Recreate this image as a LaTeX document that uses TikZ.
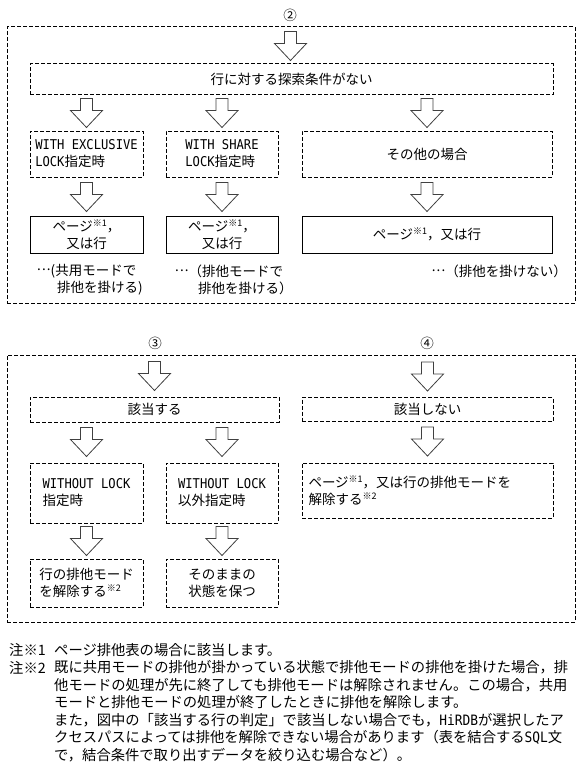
\documentclass[tikz,border=0pt]{standalone}
\usepackage{fontspec}
\setmainfont{Noto Sans CJK JP}
\newfontfamily\monof{DejaVu Sans Mono}[FakeStretch=0.9]
\usetikzlibrary{calc}
\newcommand\kome[1]{\raisebox{0.4em}{\fontsize{9pt}{9pt}\selectfont ※#1}}
\newcommand\lat[1]{{\monof #1}}
\newcommand\mdots{\makebox[1em][c]{\raisebox{0.32em}{.\kern0.08em.\kern0.08em.}}}
\begin{document}
\begin{tikzpicture}[x=1pt,y=-1pt,
  font=\fontsize{13.5pt}{17pt}\selectfont,
  dbox/.style={draw, line width=1pt, dash pattern=on 4pt off 2pt, inner sep=0pt},
  sbox/.style={draw, line width=0.9pt, inner sep=0pt},
  frame/.style={draw, line width=1pt, dash pattern=on 4pt off 2pt, inner sep=0pt},
  arrowline/.style={draw=black!75, line width=0.8pt, fill=white, line join=miter},
  txt/.style={inner sep=0pt, anchor=west},
  note/.style={inner sep=0pt, anchor=west, font=\fontsize{14.3pt}{17pt}\selectfont},
  barrow/.pic={\path[arrowline] (-6,0) -- (6,0) -- (6,12) -- (16,12) -- (0,29) -- (-16,12) -- (-6,12) -- cycle;}
]
\useasboundingbox (0,0) rectangle (581,773);

% ---------- section 2 ----------
\node[frame, minimum width=568pt, minimum height=276pt] (f1) at (291,165) {};
\node[inner sep=0pt] (c2) at (290,15) {②};
\node[dbox, minimum width=523pt, minimum height=31pt] (r1) at (291.5,79.5) {行に対する探索条件がない};

\node[dbox, minimum width=113pt, minimum height=46pt, align=left] (e1) at (86.5,154) {\lat{WITH EXCLUSIVE}\\\lat{LOCK}指定時};
\node[dbox, minimum width=112pt, minimum height=46pt, align=left] (e2) at (222,154) {\lat{WITH SHARE}\\\lat{LOCK}指定時};
\node[dbox, minimum width=250pt, minimum height=46pt] (e3) at (427,154) {その他の場合};

\node[sbox, minimum width=113pt, minimum height=37pt, align=center] (p1) at (86.5,234.5) {ページ\kome{1}，\\又は行};
\node[sbox, minimum width=112pt, minimum height=37pt, align=center] (p2) at (222,234.5) {ページ\kome{1}，\\又は行};
\node[sbox, minimum width=250pt, minimum height=37pt] (p3) at (427,234.5) {ページ\kome{1}，又は行};

\node[txt] (t1a) at (37,271) {\mdots(共用モードで};
\node[txt] (t1b) at (57,288) {排他を掛ける)};
\node[txt] (t2a) at (175,271) {\mdots（排他モードで};
\node[txt] (t2b) at (198,288) {排他を掛ける）};
\node[inner sep=0pt, anchor=east] (t3) at (567,271) {\mdots（排他を掛けない）};

\pic at ($(r1.north)+(-1,-32)$) {barrow};
\foreach \b in {e1,e2,e3} \pic at ($(\b.north |- r1.south)+(0,3)$) {barrow};
\foreach \a/\b in {e1/p1,e2/p2,e3/p3} \pic at ($(\a.south)+(0,5)$) {barrow};

% ---------- sections 3 and 4 ----------
\node[frame, minimum width=568pt, minimum height=267pt] (f2) at (291,488.5) {};
\node[inner sep=0pt] (c3) at (155,343) {③};
\node[inner sep=0pt] (c4) at (427,343) {④};

\node[dbox, minimum width=249pt, minimum height=25pt] (g1) at (154.5,409.5) {該当する};
\node[dbox, minimum width=113pt, minimum height=60pt, align=left] (h1) at (86.5,493) {\lat{WITHOUT LOCK}\\指定時};
\node[dbox, minimum width=112pt, minimum height=60pt, align=left] (h2) at (222,493) {\lat{WITHOUT LOCK}\\以外指定時};
\node[dbox, minimum width=113pt, minimum height=48pt, align=left] (k1) at (86.5,583) {行の排他モード\\を解除する\kome{2}};
\node[dbox, minimum width=112pt, minimum height=48pt, align=center] (k2) at (222,583) {そのままの\\状態を保つ};

\node[dbox, minimum width=251pt, minimum height=24pt] (g2) at (427.5,409.5) {該当しない};
\node[dbox, minimum width=251pt, minimum height=55pt, text width=238pt, align=left] (h3) at (427.5,490.5) {ページ\kome{1}，又は行の排他モードを\\解除する\kome{2}};

\pic at ($(g1.north)+(0,-35)$) {barrow};
\pic at ($(g2.north)+(0,-35)$) {barrow};
\foreach \b in {h1,h2} \pic at ($(\b.north |- g1.south)+(0,5)$) {barrow};
\pic at ($(g2.south)+(0,5)$) {barrow};
\foreach \a/\b in {h1/k1,h2/k2} \pic at ($(\a.south)+(0,3)$) {barrow};

% ---------- notes ----------
\node[note] (l1) at (9,650) {注※1};
\node[note] (n1) at (54,650) {ページ排他表の場合に該当します。};
\node[note] (l2) at (9,667.5) {注※2};
\node[note] (n2) at (54,667.5) {既に共用モードの排他が掛かっている状態で排他モードの排他を掛けた場合，排};
\node[note] (n3) at (54,685) {他モードの処理が先に終了しても排他モードは解除されません。この場合，共用};
\node[note] (n4) at (54,702.5) {モードと排他モードの処理が終了したときに排他を解除します。};
\node[note] (n5) at (54,720) {また，図中の「該当する行の判定」で該当しない場合でも，\lat{HiRDB}が選択したア};
\node[note] (n6) at (54,737.5) {クセスパスによっては排他を解除できない場合があります（表を結合する\lat{SQL}文};
\node[note] (n7) at (54,755) {で，結合条件で取り出すデータを絞り込む場合など）。};
\end{tikzpicture}
\end{document}
